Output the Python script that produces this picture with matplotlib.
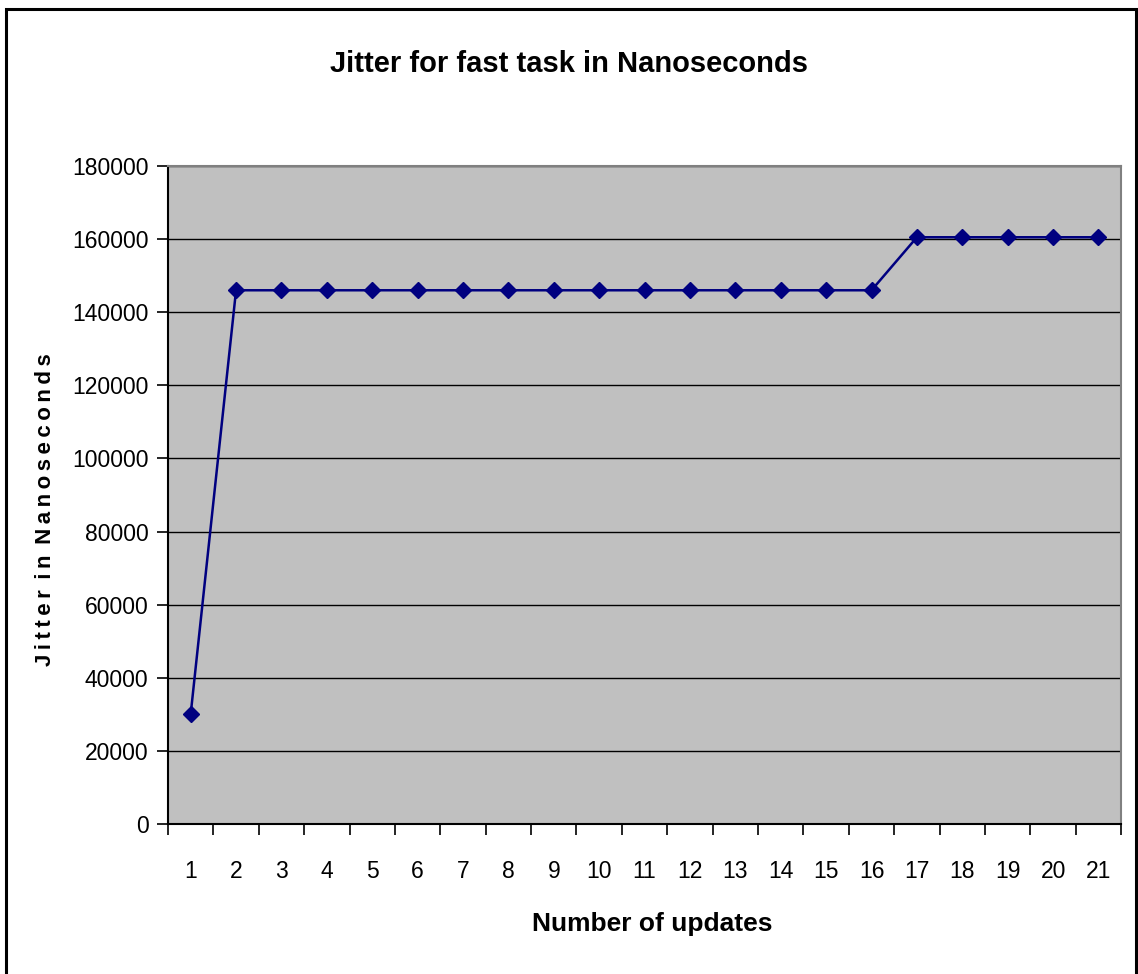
import matplotlib.pyplot as plt
from matplotlib.patches import Rectangle
from matplotlib.ticker import FixedLocator, NullFormatter
import numpy as np

# Data
updates = list(range(1, 22))
jitter_ns = [30000] + [146000] * 15 + [160500] * 5
y_ticks = list(range(0, 180001, 20000))

LINE_COLOR = '#000080'
PLOT_BG = '#C0C0C0'

plt.rcParams['font.family'] = ['Liberation Sans', 'DejaVu Sans']

fig = plt.figure(figsize=(11.38, 9.74), dpi=100)
ax = fig.add_axes([0.1476, 0.154, 0.8376, 0.6756])
ax.set_facecolor(PLOT_BG)

x = np.arange(len(updates))
ax.plot(x, jitter_ns, color=LINE_COLOR, linewidth=1.8, marker='D',
        markersize=8, markerfacecolor=LINE_COLOR, markeredgecolor=LINE_COLOR, zorder=3)

ax.set_xlim(-0.5, len(updates) - 0.5)
ax.set_ylim(0, 180000)

# y axis
ax.set_yticks(y_ticks)
ax.set_yticklabels([str(v) for v in y_ticks], fontsize=16.5)
ax.yaxis.grid(True, color='black', linewidth=1.0)
ax.set_axisbelow(True)

# x axis: labels at categories, ticks between categories
ax.set_xticks(x)
ax.set_xticklabels([str(u) for u in updates], fontsize=16.5)
ax.tick_params(axis='x', which='major', length=0, pad=26)
ax.xaxis.set_minor_locator(FixedLocator(np.arange(-0.5, len(updates), 1.0)))
ax.xaxis.set_minor_formatter(NullFormatter())
ax.tick_params(axis='x', which='minor', length=8, width=1.2, color='black')
ax.tick_params(axis='y', length=8, width=1.2, pad=6)

for side in ['left', 'bottom']:
    ax.spines[side].set_color('black')
    ax.spines[side].set_linewidth(1.5)
for side in ['top', 'right']:
    ax.spines[side].set_color('#808080')
    ax.spines[side].set_linewidth(1.5)

ax.set_xlabel('Number of updates', fontsize=19, fontweight='bold')
ax.xaxis.set_label_coords((652 - 168) / 953, -(924 - 824) / 658)
ax.xaxis.label.set_va('center')

ylabel = '\u2009'.join('Jitter') + ' \u2009' + '\u2009'.join('in') + ' \u2009' + '\u2009'.join('Nanoseconds')
ax.set_ylabel(ylabel, fontsize=16, fontweight='bold')
ax.yaxis.set_label_coords(-(168 - 46) / 953, (824 - 510) / 658)
ax.yaxis.label.set_va('center')

fig.text(0.5, 1 - 64 / 974, 'Jitter for fast task in Nanoseconds',
         ha='center', va='center', fontsize=21, fontweight='bold')

# chart border
fig.patches.append(Rectangle((6 / 1138, -0.01), 1130 / 1138, 1 - 9 / 974 + 0.01,
                             transform=fig.transFigure, fill=False,
                             edgecolor='black', linewidth=2.2))

plt.savefig('out.png', dpi=100, facecolor='white')
plt.close()
